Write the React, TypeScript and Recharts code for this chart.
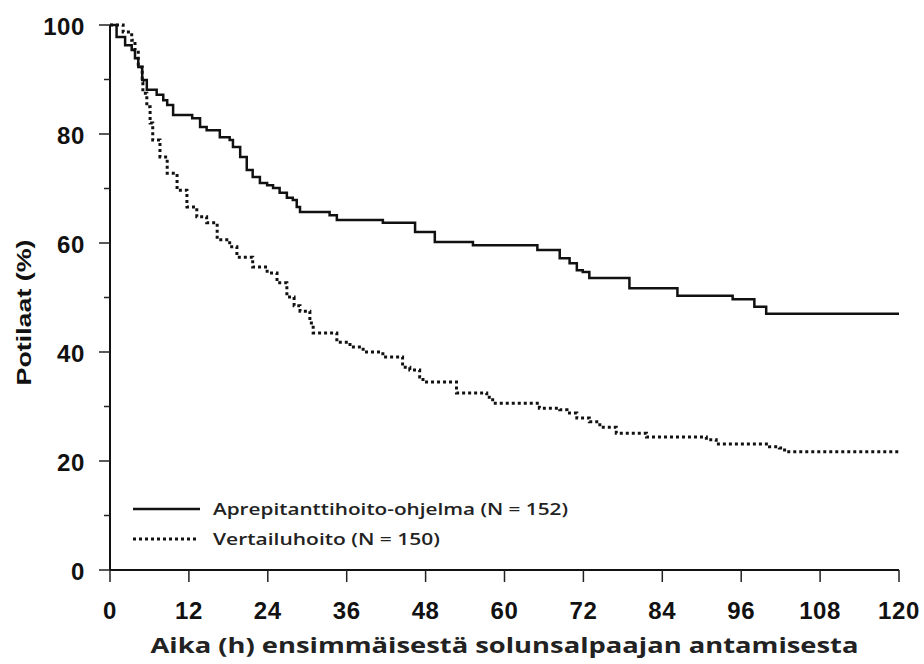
import React from "react";
import { Legend, Line, LineChart, XAxis, YAxis } from "recharts";

// Aprepitant regimen (solid) — Kaplan-Meier steps
const aprepHours = [0, 1, 2.3, 3.3, 3.8, 4.3, 4.9, 5.6, 7.1, 8.1, 8.7, 9.6, 12.5, 13.7, 14.7, 16.7, 18.2, 18.7, 19.8, 20.8, 21.7, 22.8, 23.9, 24.8, 25.8, 26.9, 27.8, 28.4, 28.9, 33.4, 34.5, 41.5, 46.4, 49.4, 55.2, 65, 68.4, 69.9, 71, 71.9, 72.9, 79, 86.3, 94.7, 98, 99.8, 120];
const aprepValues = [100, 97.8, 96.3, 95.4, 93.9, 92.3, 89.9, 88.1, 87.2, 86.2, 85.3, 83.5, 82.9, 81.3, 80.7, 79.4, 78.9, 77.6, 75.8, 73.4, 72.1, 71, 70.6, 70.1, 69.2, 68.3, 67.9, 66.6, 65.7, 65.1, 64.2, 63.7, 62, 60.2, 59.6, 58.7, 57.2, 56.3, 55, 54.7, 53.6, 51.7, 50.3, 49.7, 48.3, 47, 47];

// Control regimen (dotted)
const controlHours = [0, 2, 3.3, 3.8, 4.3, 4.9, 5, 5.6, 6.1, 6.5, 7.6, 8.7, 10.2, 11.7, 13.2, 14.7, 16.3, 18.2, 19.3, 21.7, 23.9, 25.4, 26.9, 28, 28.9, 30.4, 30.9, 34.5, 36.5, 38.5, 41.5, 44.5, 45.6, 47.1, 47.6, 52.7, 57.3, 58.2, 65.3, 68.4, 69.5, 71, 72.9, 74.5, 77, 81.6, 90.7, 92.2, 100.3, 101.8, 102.6, 120];
const controlValues = [100, 98.7, 97.2, 95.4, 92.3, 89.5, 87.5, 85, 82, 78.9, 75.8, 72.8, 69.7, 66.6, 64.8, 63.7, 60.6, 59.3, 57.4, 55.6, 54.5, 52.7, 50.1, 48.5, 47.5, 45.3, 43.5, 41.8, 40.9, 40, 39.1, 37.2, 36.7, 35.4, 34.5, 32.5, 31.7, 30.6, 29.7, 29.4, 28.8, 27.9, 27.2, 26.2, 25.1, 24.4, 23.9, 23.1, 22.6, 22.4, 21.7, 21.7];

const xTicks = [0, 12, 24, 36, 48, 60, 72, 84, 96, 108, 120];
const yTicks = [0, 10, 20, 30, 40, 50, 60, 70, 80, 90, 100];

const seriesNames = ["Aprepitanttihoito-ohjelma (N = 152)", "Vertailuhoito (N = 150)"];

const aprepData = aprepHours.map((h, i) => ({ h, v: aprepValues[i] }));
const controlData = controlHours.map((h, i) => ({ h, v: controlValues[i] }));

const tickFont = "'Liberation Sans', Arial, sans-serif";
const titleFont = "'Open Sans', 'Noto Sans', sans-serif";

const YTick = ({ x, y, payload }: any) => {
  const major = payload.value % 20 === 0;
  return (
    <g>
      <line x1={x - (major ? 11 : 6)} x2={x} y1={y} y2={y} stroke="#222" strokeWidth={1.5} />
      {major && (
        <text x={x - 25} y={y} dy={10} textAnchor="end" fontFamily={tickFont} fontWeight="bold" fontSize={24} letterSpacing={0.6} fill="#111">
          {payload.value}
        </text>
      )}
    </g>
  );
};

const XTick = ({ x, y, payload }: any) => (
  <g>
    <line x1={x} x2={x} y1={y} y2={y + 12} stroke="#222" strokeWidth={1.5} />
    <text x={x} y={y + 49} textAnchor="middle" fontFamily={tickFont} fontWeight="bold" fontSize={24} letterSpacing={0.6} fill="#111">
      {payload.value}
    </text>
  </g>
);

const LegendBox = () => (
  <svg width={460} height={60}>
    <line x1={0} x2={67} y1={12} y2={12} stroke="#111" strokeWidth={2.5} />
    <line x1={0} x2={64} y1={42} y2={42} stroke="#111" strokeWidth={3} strokeDasharray="3 3" />
    <text x={80} y={12} dy={6} fontFamily={titleFont} fontWeight={600} fontSize={17} fill="#222" textLength={355} lengthAdjust="spacingAndGlyphs">
      {seriesNames[0]}
    </text>
    <text x={80} y={42} dy={6} fontFamily={titleFont} fontWeight={600} fontSize={17} fill="#222" textLength={227} lengthAdjust="spacingAndGlyphs">
      {seriesNames[1]}
    </text>
  </svg>
);

export default function App() {
  return (
    <div style={{ position: "absolute", left: 0, top: 0, background: "#fff" }}>
      <LineChart width={924} height={664} margin={{ top: 25, right: 25, bottom: 54, left: 40 }}>
        <XAxis
          dataKey="h"
          type="number"
          domain={[0, 120]}
          ticks={xTicks}
          interval={0}
          allowDuplicatedCategory={false}
          height={40}
          tickSize={0}
          tickMargin={0}
          tick={<XTick />}
          axisLine={{ stroke: "#111", strokeWidth: 2 }}
          label={{
            content: ({ viewBox }: any) => (
              <text
                x={viewBox.x + viewBox.width / 2}
                y={645}
                dominantBaseline="central"
                textAnchor="middle"
                fontFamily={titleFont}
                fontWeight={700}
                fontSize={21}
                fill="#222"
                textLength={708}
                lengthAdjust="spacingAndGlyphs"
              >
                Aika (h) ensimmäisestä solunsalpaajan antamisesta
              </text>
            ),
          }}
        />
        <YAxis
          type="number"
          domain={[0, 100]}
          ticks={yTicks}
          interval={0}
          width={70}
          tickSize={0}
          tickMargin={0}
          tick={<YTick />}
          axisLine={{ stroke: "#111", strokeWidth: 2 }}
          label={{
            content: ({ viewBox }: any) => {
              const cx = 23;
              const cy = viewBox.y + viewBox.height / 2 + 15;
              return (
                <text
                  x={cx}
                  y={cy}
                  transform={`rotate(-90 ${cx} ${cy})`}
                  dominantBaseline="central"
                  textAnchor="middle"
                  fontFamily={tickFont}
                  fontWeight="bold"
                  fontSize={21}
                  fill="#111"
                  textLength={146}
                  lengthAdjust="spacingAndGlyphs"
                >
                  Potilaat (%)
                </text>
              );
            },
          }}
        />
        <Legend
          layout="vertical"
          align="center"
          verticalAlign="middle"
          wrapperStyle={{ left: 133, top: 497, width: 460 }}
          content={() => <LegendBox />}
        />
        <Line
          data={aprepData}
          dataKey="v"
          name={seriesNames[0]}
          type="stepAfter"
          stroke="#111"
          strokeWidth={2.5}
          dot={false}
          isAnimationActive={false}
        />
        <Line
          data={controlData}
          dataKey="v"
          name={seriesNames[1]}
          type="stepAfter"
          stroke="#111"
          strokeWidth={3}
          strokeDasharray="3 3"
          dot={false}
          isAnimationActive={false}
        />
      </LineChart>
    </div>
  );
}
